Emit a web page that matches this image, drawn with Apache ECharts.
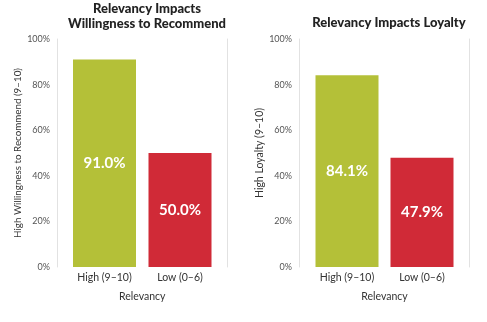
<!DOCTYPE html>
<html><head><meta charset="utf-8">
<script src="https://cdn.jsdelivr.net/npm/echarts@6/dist/echarts.min.js"></script>
<style>html,body{margin:0;padding:0;background:#fff}#c{width:487px;height:322px}</style>
</head><body><div id="c"></div>
<script>
const categories = ['High (9–10)', 'Low (0–6)'];
const recommendValues = [91.0, 50.0];
const loyaltyValues = [84.1, 47.9];
const yTicks = [0, 20, 40, 60, 80, 100];
const titles = ['Relevancy Impacts\nWillingness to Recommend', 'Relevancy Impacts Loyalty'];
const yNames = ['High Willingness to Recommend (9–10)', 'High Loyalty (9–10)'];
const xName = 'Relevancy';
const colors = ['#b4c038', '#d02a37'];

const FONT = 'Lato';
const chart = echarts.init(document.getElementById('c'), null, {renderer: 'canvas'});
const lineStyle = {color: '#e2e2e2', width: 1};
function yAxes(gi, name, offL, offR, nameGap, nameSize) {
  return [{
    type: 'value', gridIndex: gi, min: 0, max: 100, interval: 20, position: 'left', offset: offL,
    name: name, nameLocation: 'middle', nameGap: nameGap, nameRotate: 90,
    nameTextStyle: {fontFamily: FONT, fontSize: nameSize, color: '#333'},
    axisLine: {show: true, lineStyle: lineStyle}, axisTick: {show: false}, splitLine: {show: false},
    axisLabel: {formatter: v => yTicks.includes(v) ? v + '%' : '', fontFamily: FONT, fontSize: 9, color: '#555', margin: 7}
  }, {
    type: 'value', gridIndex: gi, min: 0, max: 100, interval: 20, position: 'right', offset: offR,
    axisLine: {show: true, lineStyle: lineStyle}, axisTick: {show: false}, splitLine: {show: false},
    axisLabel: {show: false}
  }];
}
function xAxis(gi) {
  return {
    type: 'category', gridIndex: gi, data: categories,
    axisLine: {show: false}, axisTick: {show: false},
    axisLabel: {fontFamily: FONT, fontSize: 10.5, color: '#333', margin: 5},
    name: xName, nameLocation: 'middle', nameGap: 24,
    nameTextStyle: {fontFamily: FONT, fontSize: 10.5, color: '#333'}
  };
}
function series(gi, vals) {
  return {
    type: 'bar', xAxisIndex: gi, yAxisIndex: gi * 2, barWidth: 63,
    data: vals.map((v, i) => ({value: v, itemStyle: {color: colors[i]}})),
    label: {show: true, position: 'inside', formatter: p => p.value.toFixed(1) + '%',
      fontFamily: FONT, fontWeight: 'bold', fontSize: 15, color: '#fff'}
  };
}
chart.setOption({
  animation: false,
  title: [
    {text: titles[0], left: 142, top: -4, textAlign: 'center',
     textStyle: {fontFamily: FONT, fontWeight: 900, fontSize: 13, color: '#222', lineHeight: 15}},
    {text: titles[1], left: 384, top: 11, textAlign: 'center',
     textStyle: {fontFamily: FONT, fontWeight: 900, fontSize: 13, color: '#222'}}
  ],
  grid: [
    {left: 66.75, width: 151, top: 39, bottom: 55},
    {left: 309.5, width: 150, top: 39, bottom: 55}
  ],
  xAxis: [xAxis(0), xAxis(1)],
  yAxis: [...yAxes(0, yNames[0], 9.75, 9.25, 32, 9.8), ...yAxes(1, yNames[1], 10.5, 9.5, 22, 10.5)],
  series: [series(0, recommendValues), series(1, loyaltyValues)]
});
</script></body></html>
